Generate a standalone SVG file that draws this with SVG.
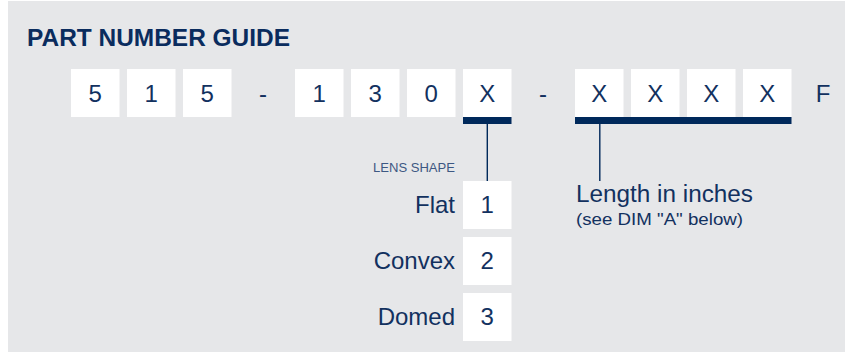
<svg xmlns="http://www.w3.org/2000/svg" width="845" height="352" viewBox="0 0 845 352">
<style>
.bg{fill:#e6e7e9}
.box{fill:#ffffff}
.bar{fill:#00295b}
.t{font-family:"Liberation Sans",Arial,sans-serif;fill:#12315f}
.d{font-size:24px;text-anchor:middle}
.lbl{font-size:24px;text-anchor:end}
.title{font-size:23.5px;font-weight:bold;fill:#0a2c5e}
.small{font-size:12px;fill:#3d5883}
.conn{stroke:#00295b;stroke-width:1.4;fill:none}
</style>
<rect class="bg" x="8" y="1" width="837" height="351"/>
<g id="title"><text class="t title" x="27" y="46" textLength="263" lengthAdjust="spacingAndGlyphs">PART NUMBER GUIDE</text></g>
<g id="pn-5a"><rect class="box" x="71" y="69" width="48.5" height="48"/><text class="t d" x="95.2" y="102">5</text></g>
<g id="pn-1a"><rect class="box" x="127" y="69" width="48.5" height="48"/><text class="t d" x="151.2" y="102">1</text></g>
<g id="pn-5b"><rect class="box" x="183" y="69" width="48.5" height="48"/><text class="t d" x="207.2" y="102">5</text></g>
<g id="pn-dash1"><text class="t d" x="263" y="102">-</text></g>
<g id="pn-1b"><rect class="box" x="295" y="69" width="48.5" height="48"/><text class="t d" x="319.2" y="102">1</text></g>
<g id="pn-3"><rect class="box" x="351" y="69" width="48.5" height="48"/><text class="t d" x="375.2" y="102">3</text></g>
<g id="pn-0"><rect class="box" x="407" y="69" width="48.5" height="48"/><text class="t d" x="431.2" y="102">0</text></g>
<g id="pn-lens"><rect class="box" x="463" y="69" width="48.5" height="48"/><text class="t d" x="487.2" y="102">X</text><rect class="bar" x="463" y="117" width="48.5" height="7"/></g>
<g id="pn-dash2"><text class="t d" x="543" y="102">-</text></g>
<g id="pn-length">
<rect class="box" x="575" y="69" width="48.5" height="48"/><text class="t d" x="599.2" y="102">X</text>
<rect class="box" x="631" y="69" width="48.5" height="48"/><text class="t d" x="655.2" y="102">X</text>
<rect class="box" x="687" y="69" width="48.5" height="48"/><text class="t d" x="711.2" y="102">X</text>
<rect class="box" x="743" y="69" width="48.5" height="48"/><text class="t d" x="767.2" y="102">X</text>
<rect class="bar" x="575" y="117" width="216.5" height="7"/>
</g>
<g id="pn-F"><text class="t d" x="823" y="102">F</text></g>
<g id="connectors">
<line class="conn" x1="487.3" y1="124" x2="487.3" y2="181"/>
<line class="conn" x1="599.8" y1="124" x2="599.8" y2="181"/>
</g>
<g id="lens-shape-header"><text class="t small" x="455" y="172" text-anchor="end" textLength="82" lengthAdjust="spacingAndGlyphs">LENS SHAPE</text></g>
<g id="lens-flat"><text class="t lbl" x="455" y="213.3">Flat</text><rect class="box" x="463" y="181" width="48.5" height="48"/><text class="t d" x="487.2" y="213.3">1</text></g>
<g id="lens-convex"><text class="t lbl" x="455" y="269.3">Convex</text><rect class="box" x="463" y="237" width="48.5" height="48"/><text class="t d" x="487.2" y="269.3">2</text></g>
<g id="lens-domed"><text class="t lbl" x="455" y="325.3">Domed</text><rect class="box" x="463" y="293" width="48.5" height="48"/><text class="t d" x="487.2" y="325.3">3</text></g>
<g id="length-label">
<text class="t" x="576" y="201.5" font-size="23" textLength="177" lengthAdjust="spacingAndGlyphs">Length in inches</text>
<text class="t" x="576" y="225" font-size="17" textLength="167" lengthAdjust="spacingAndGlyphs">(see DIM "A" below)</text>
</g>
</svg>
